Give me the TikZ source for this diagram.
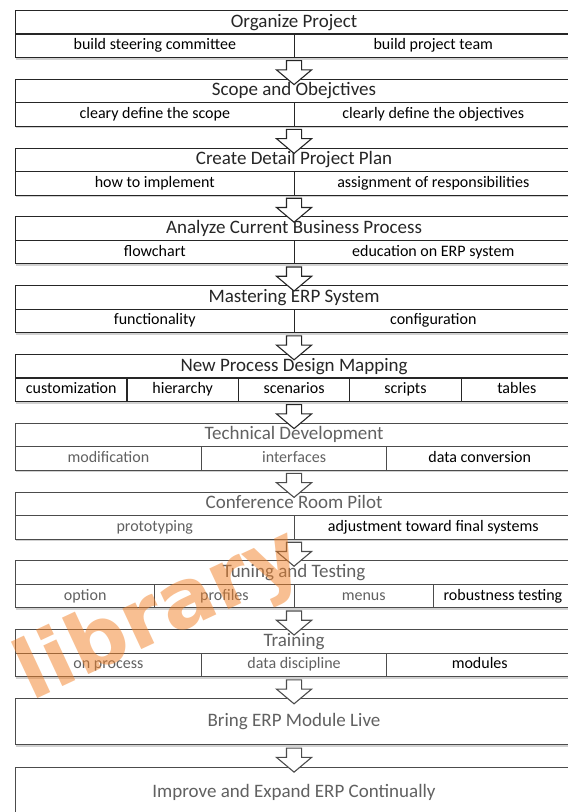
\documentclass[tikz,border=0pt]{standalone}
\usepackage{fontspec}
\setmainfont{Carlito}
\newfontfamily\markfont{DejaVu Sans}
\usepackage{tikz}
\usetikzlibrary{calc,shadows,shapes.arrows}
\definecolor{markorange}{RGB}{242,128,38}
\tikzset{
  erp-frame/.style={draw=black!85, fill=white, line width=1.1pt, anchor=north west, inner sep=0pt,
    minimum width=557pt, minimum height=47pt,
    drop shadow={shadow xshift=0.5pt, shadow yshift=-2pt, fill=black!40, opacity=0.45}},
  erp-title/.style={draw=black!85, line width=1.1pt, anchor=north west, inner sep=0pt,
    minimum width=557pt, minimum height=23.5pt, text height=13.5pt, text depth=4pt,
    font=\fontsize{19}{20}\selectfont, text=black!85},
  erp-cell/.style={draw=black!85, line width=1.1pt, anchor=north west, inner sep=0pt,
    minimum height=23.5pt, text height=11.5pt, text depth=3.5pt, font=\fontsize{16}{17}\selectfont},
  erp-half/.style={erp-cell, minimum width=278.5pt},
  erp-third/.style={erp-cell, minimum width=185.67pt},
  erp-quarter/.style={erp-cell, minimum width=139.25pt},
  erp-fifth/.style={erp-cell, minimum width=111.4pt},
  erp-late/.style={draw=black!70, text=black!62},
  erp-arrow/.style={single arrow, draw=black!85, fill=white, line width=1.1pt, inner sep=7pt,
    minimum height=24pt, minimum width=34pt, single arrow head extend=10pt,
    single arrow tip angle=100, rotate=-90},
  erp-mark/.style={font=\markfont\bfseries\fontsize{82}{82}\selectfont, text=markorange,
    text opacity=0.5, rotate=25}
}

\begin{document}
\begin{tikzpicture}[x=1pt, y=1pt]
  \useasboundingbox (0,0) rectangle (568,812);

  % Planning phases
  \node[erp-frame] (organize) at (15,802) {};
  \node[erp-title] (organize-t) at (15,802) {Organize Project};
  \node[erp-half] (organize-a) at (15,778.5) {build steering committee};
  \node[erp-half] (organize-b) at (293.5,778.5) {build project team};

  \node[erp-frame] (scope) at (15,733.2) {};
  \node[erp-title] (scope-t) at (15,733.2) {Scope and Obejctives};
  \node[erp-half] (scope-a) at (15,709.7) {cleary define the scope};
  \node[erp-half] (scope-b) at (293.5,709.7) {clearly define the objectives};

  \node[erp-frame] (plan) at (15,664.4) {};
  \node[erp-title] (plan-t) at (15,664.4) {Create Detail Project Plan};
  \node[erp-half] (plan-a) at (15,640.9) {how to implement};
  \node[erp-half] (plan-b) at (293.5,640.9) {assignment of responsibilities};

  \node[erp-frame] (analyze) at (15,595.6) {};
  \node[erp-title] (analyze-t) at (15,595.6) {Analyze Current Business Process};
  \node[erp-half] (analyze-a) at (15,572.1) {flowchart};
  \node[erp-half] (analyze-b) at (293.5,572.1) {education on ERP system};

  \node[erp-frame] (master) at (15,526.8) {};
  \node[erp-title] (master-t) at (15,526.8) {Mastering ERP System};
  \node[erp-half] (master-a) at (15,503.3) {functionality};
  \node[erp-half] (master-b) at (293.5,503.3) {configuration};

  \node[erp-frame] (mapping) at (15,458) {};
  \node[erp-title] (mapping-t) at (15,458) {New Process Design Mapping};
  \node[erp-fifth] (mapping-a) at (15,434.5) {customization};
  \node[erp-fifth] (mapping-b) at (126.4,434.5) {hierarchy};
  \node[erp-fifth] (mapping-c) at (237.8,434.5) {scenarios};
  \node[erp-fifth] (mapping-d) at (349.2,434.5) {scripts};
  \node[erp-fifth] (mapping-e) at (460.6,434.5) {tables};

  % Build, test and roll-out phases
  \node[erp-frame, erp-late] (techdev) at (15,389.2) {};
  \node[erp-title, erp-late] (techdev-t) at (15,389.2) {Technical Development};
  \node[erp-third, erp-late] (techdev-a) at (15,365.7) {modification};
  \node[erp-third, erp-late] (techdev-b) at (200.67,365.7) {interfaces};
  \node[erp-third, erp-late, text=black] (techdev-c) at (386.33,365.7) {data conversion};

  \node[erp-frame, erp-late] (pilot) at (15,320.4) {};
  \node[erp-title, erp-late] (pilot-t) at (15,320.4) {Conference Room Pilot};
  \node[erp-half, erp-late] (pilot-a) at (15,296.9) {prototyping};
  \node[erp-half, erp-late, text=black] (pilot-b) at (293.5,296.9) {adjustment toward final systems};

  \node[erp-frame, erp-late] (tuning) at (15,251.6) {};
  \node[erp-title, erp-late] (tuning-t) at (15,251.6) {Tuning and Testing};
  \node[erp-quarter, erp-late] (tuning-a) at (15,228.1) {option};
  \node[erp-quarter, erp-late] (tuning-b) at (154.25,228.1) {profiles};
  \node[erp-quarter, erp-late] (tuning-c) at (293.5,228.1) {menus};
  \node[erp-quarter, erp-late, text=black] (tuning-d) at (432.75,228.1) {robustness testing};

  \node[erp-frame, erp-late] (training) at (15,182.8) {};
  \node[erp-title, erp-late] (training-t) at (15,182.8) {Training};
  \node[erp-third, erp-late] (training-a) at (15,159.3) {on process};
  \node[erp-third, erp-late] (training-b) at (200.67,159.3) {data discipline};
  \node[erp-third, erp-late, text=black] (training-c) at (386.33,159.3) {modules};

  \node[erp-frame, erp-late, minimum height=46pt, font=\fontsize{19}{20}\selectfont] (golive) at (15,114) {Bring ERP Module Live};
  \node[erp-frame, erp-late, minimum height=50pt, font=\fontsize{19}{20}\selectfont] (improve) at (15,45.2) {Improve and Expand ERP Continually};

  % Block arrows between phases
  \node[erp-arrow] (step1) at ($(organize.south)!0.5!(scope.north)+(0,-1)$) {};
  \node[erp-arrow] (step2) at ($(scope.south)!0.5!(plan.north)+(0,-1)$) {};
  \node[erp-arrow] (step3) at ($(plan.south)!0.5!(analyze.north)+(0,-1)$) {};
  \node[erp-arrow] (step4) at ($(analyze.south)!0.5!(master.north)+(0,-1)$) {};
  \node[erp-arrow] (step5) at ($(master.south)!0.5!(mapping.north)+(0,-1)$) {};
  \node[erp-arrow] (step6) at ($(mapping.south)!0.5!(techdev.north)+(0,-1)$) {};
  \node[erp-arrow, draw=black!70] (step7) at ($(techdev.south)!0.5!(pilot.north)+(0,-1)$) {};
  \node[erp-arrow, draw=black!70] (step8) at ($(pilot.south)!0.5!(tuning.north)+(0,-1)$) {};
  \node[erp-arrow, draw=black!70] (step9) at ($(tuning.south)!0.5!(training.north)+(0,-1)$) {};
  \node[erp-arrow, draw=black!70] (step10) at ($(training.south)!0.5!(golive.north)+(0,-1)$) {};
  \node[erp-arrow, draw=black!70] (step11) at ($(golive.south)!0.5!(improve.north)+(0,-1)$) {};

  % Watermark over the lower phases
  \node[erp-mark] (mark) at (160,195) {library};
\end{tikzpicture}
\end{document}
